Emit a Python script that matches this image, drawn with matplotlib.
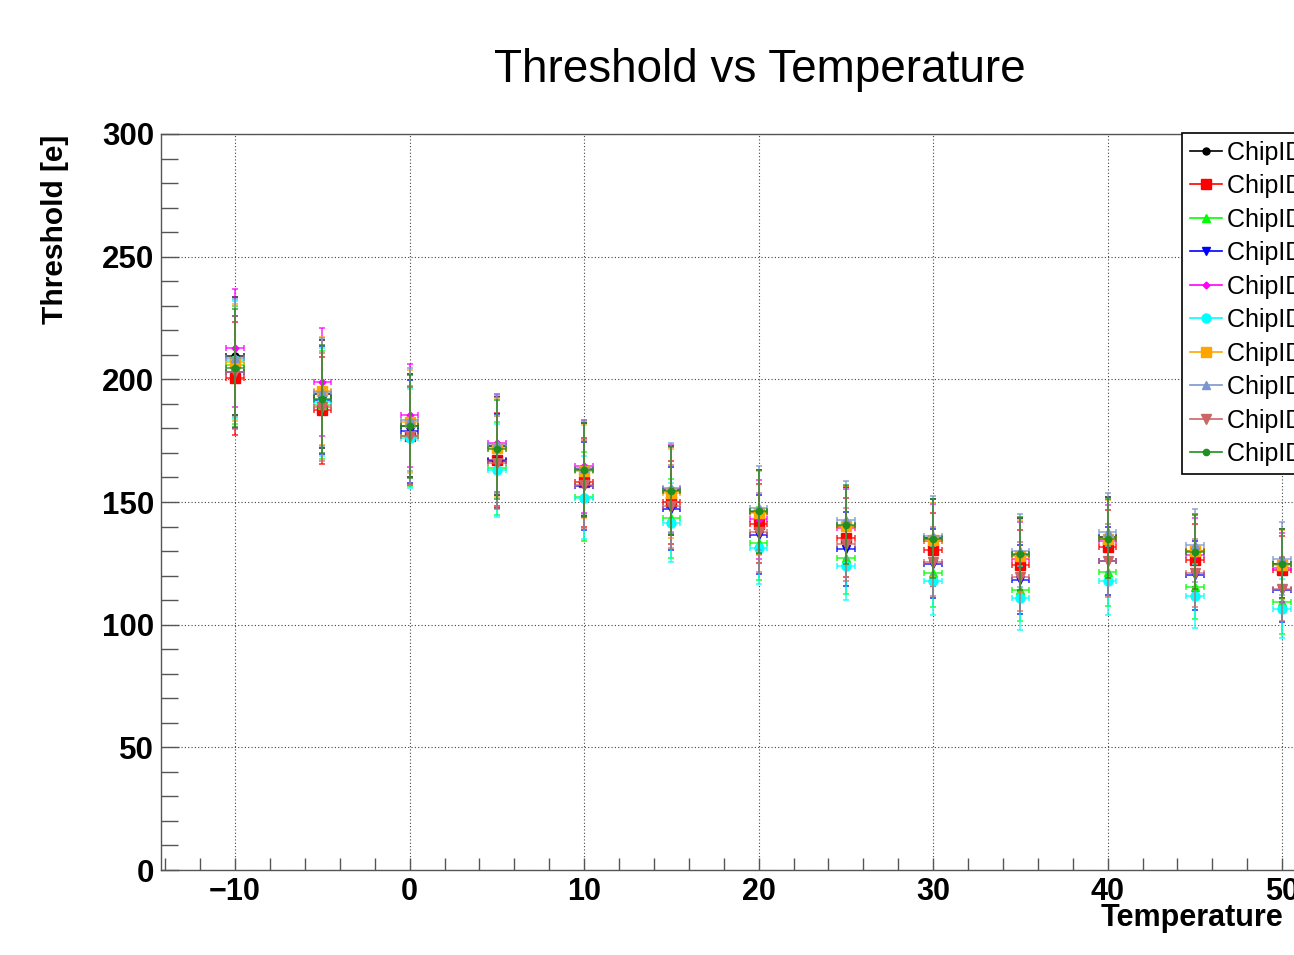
import matplotlib
matplotlib.use("Agg")
import matplotlib.pyplot as plt
from matplotlib.lines import Line2D
from matplotlib.ticker import MultipleLocator

plt.rcParams['font.family'] = ['Liberation Sans', 'DejaVu Sans']

# temperatures and x error
temps = [-10, -5, 0, 5, 10, 15, 20, 25, 30, 35, 40, 45, 50]
temp_err = [0.5] * 13

chip_names = ["ChipID 0", "ChipID 1", "ChipID 2", "ChipID 3", "ChipID 4",
              "ChipID 5", "ChipID 6", "ChipID 7", "ChipID 8", "ChipID 9"]

thr_black = [209.4, 193.9, 181.0, 172.7, 163.3, 154.7, 145.9, 140.2, 135.2, 128.6, 135.9, 130.2, 124.8]
thr_red = [200.4, 187.3, 177.0, 167.3, 158.0, 149.8, 141.2, 135.5, 130.6, 124.5, 131.8, 126.2, 122.1]
thr_green = [205.7, 189.4, 176.7, 163.7, 152.2, 143.3, 133.1, 127.3, 121.2, 114.3, 121.6, 115.2, 109.3]
thr_blue = [203.0, 191.4, 178.8, 166.7, 156.4, 147.3, 136.7, 130.9, 124.9, 118.4, 126.0, 120.1, 114.0]
thr_magenta = [212.7, 198.8, 185.3, 173.9, 164.5, 155.2, 142.9, 139.2, 134.2, 126.9, 133.9, 128.3, 123.2]
thr_cyan = [207.8, 190.6, 175.9, 162.9, 151.8, 141.6, 131.4, 124.1, 118.0, 111.0, 117.9, 111.8, 106.5]
thr_orange = [206.9, 195.1, 182.7, 172.2, 162.5, 153.5, 145.6, 140.4, 134.7, 127.8, 135.0, 130.0, 124.5]
thr_lightblue = [208.6, 195.0, 183.5, 173.5, 164.0, 155.9, 147.6, 142.6, 136.3, 130.2, 137.6, 132.3, 126.9]
thr_rosy = [202.9, 188.6, 177.1, 166.1, 157.1, 148.2, 137.6, 132.7, 125.7, 119.6, 126.1, 121.1, 114.6]
thr_darkgreen = [204.5, 191.8, 180.8, 171.4, 163.0, 154.6, 146.2, 140.8, 135.1, 129.0, 135.1, 129.7, 124.9]

err_black = [24, 22, 21, 20, 19, 18, 17, 16, 16, 15, 16, 15, 14]
err_red = [23, 22, 20, 19, 18, 17, 16, 16, 15, 14, 15, 15, 14]
err_green = [24, 22, 20, 19, 18, 16, 15, 15, 14, 13, 14, 13, 13]
err_blue = [23, 22, 21, 19, 18, 17, 16, 15, 14, 14, 14, 14, 13]
err_magenta = [24, 22, 21, 20, 19, 18, 16, 16, 15, 15, 15, 15, 14]
err_cyan = [24, 22, 20, 19, 17, 16, 15, 14, 14, 13, 14, 13, 12]
err_orange = [24, 22, 21, 20, 19, 18, 17, 16, 15, 15, 16, 15, 14]
err_lightblue = [24, 22, 21, 20, 19, 18, 17, 16, 16, 15, 16, 15, 15]
err_rosy = [23, 22, 20, 19, 18, 17, 16, 15, 14, 14, 15, 14, 13]
err_darkgreen = [24, 22, 21, 20, 19, 18, 17, 16, 16, 15, 16, 15, 14]

series = [thr_black, thr_red, thr_green, thr_blue, thr_magenta,
          thr_cyan, thr_orange, thr_lightblue, thr_rosy, thr_darkgreen]
errors = [err_black, err_red, err_green, err_blue, err_magenta,
          err_cyan, err_orange, err_lightblue, err_rosy, err_darkgreen]
colors = ["black", "#ff0000", "#00ff00", "#0000ff", "#ff00ff",
          "#00ffff", "#ffa500", "#7a96d0", "#cc6666", "#1f8f1f"]
markers = ["o", "s", "^", "v", "D", "o", "s", "^", "v", "o"]
msizes = [5, 6.5, 6, 6, 3.5, 6.5, 6.5, 5.5, 6.5, 4.5]

W, H = 1294, 955
fig = plt.figure(figsize=(W / 100, H / 100), dpi=100)

xmin, xmax = -14.25, 56.0
px_per_unit = 17.45
ax_left, ax_bottom, ax_top = 161, 870, 134
ax = fig.add_axes([ax_left / W, 1 - ax_bottom / H,
                   (xmax - xmin) * px_per_unit / W, (ax_bottom - ax_top) / H])

for vals, errs, col, mk, ms in zip(series, errors, colors, markers, msizes):
    ax.errorbar(temps, vals, yerr=errs, xerr=temp_err, fmt='none',
                ecolor=col, elinewidth=1.1, capsize=2.2, capthick=1.1, alpha=0.85)
    ax.plot(temps, vals, linestyle='none', marker=mk, markersize=ms,
            color=col, markeredgecolor=col)

ax.set_xlim(xmin, xmax)
ax.set_ylim(0, 300)
ax.xaxis.set_major_locator(MultipleLocator(10))
ax.xaxis.set_minor_locator(MultipleLocator(2))
ax.yaxis.set_major_locator(MultipleLocator(50))
ax.yaxis.set_minor_locator(MultipleLocator(10))
ax.grid(True, which='major', color='#444444', linestyle=(0, (1, 2)), linewidth=0.8)
ax.set_axisbelow(True)

ax.tick_params(axis='x', which='both', direction='in', length=8.6, width=1,
               color='#555555', labelsize=22, pad=5)
ax.tick_params(axis='y', which='major', direction='in', length=13, width=1,
               color='#555555', labelsize=22.5, pad=5)
ax.tick_params(axis='y', which='minor', direction='in', length=12, width=1,
               color='#555555')
for lab in ax.get_xticklabels() + ax.get_yticklabels():
    lab.set_fontweight('bold')
for sp in ax.spines.values():
    sp.set_color('#555555')
    sp.set_linewidth(1)

fig.text(760 / W, 1 - 70 / H, "Threshold vs Temperature", ha='center', va='center',
         fontsize=33)
fig.text(1283 / W, 1 - 918 / H, "Temperature", ha='right', va='center',
         fontsize=22, fontweight='bold')
fig.text(55 / W, 1 - 135 / H, "Threshold [e]", ha='center', va='top',
         rotation=90, fontsize=21.5, fontweight='bold')

handles = [Line2D([0], [0], color=c, marker=m, markersize=s, linewidth=1.2)
           for c, m, s in zip(colors, markers, msizes)]
leg = fig.legend(handles, chip_names, loc='upper left',
                 bbox_to_anchor=(1182 / W, 1 - 133 / H), fontsize=18,
                 frameon=True, fancybox=False, edgecolor='black', framealpha=1,
                 borderpad=0.3, labelspacing=0.38, handlelength=1.3,
                 handletextpad=0.2, borderaxespad=0)
leg.get_frame().set_linewidth(1.2)

fig.savefig("out.png", dpi=100)
